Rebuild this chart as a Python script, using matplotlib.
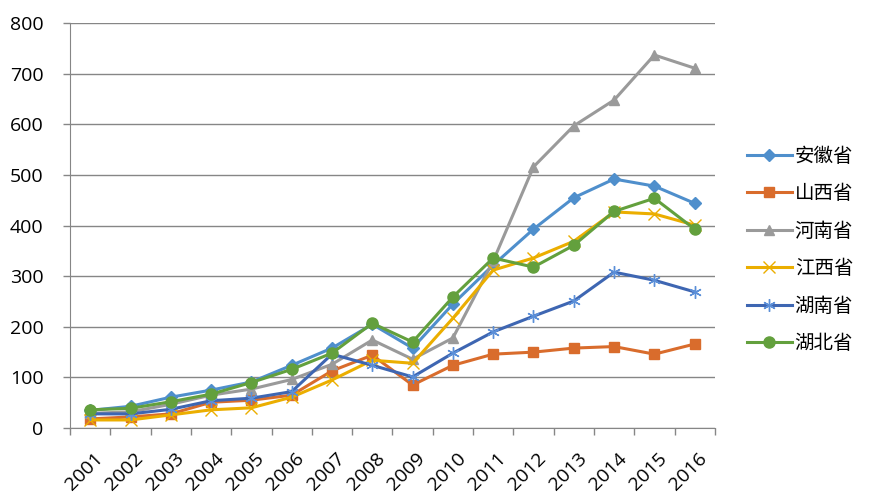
import matplotlib
matplotlib.use('Agg')
import matplotlib.pyplot as plt
import matplotlib.transforms as mtransforms
import numpy as np

plt.rcParams['font.family'] = ['Open Sans', 'Noto Sans CJK SC', 'DejaVu Sans']

# dados
anos = [str(a) for a in range(2001, 2017)]
anhui = [35, 43, 61, 75, 91, 124, 158, 205, 158, 245, 322, 393, 455, 492, 478, 444]
shanxi = [18, 22, 28, 51, 55, 65, 113, 144, 85, 124, 146, 150, 158, 161, 146, 166]
henan = [29, 32, 47, 65, 77, 96, 126, 174, 136, 178, 330, 516, 597, 648, 737, 711]
jiangxi = [16, 16, 26, 36, 40, 61, 95, 134, 128, 217, 312, 336, 369, 427, 423, 401]
hunan = [28, 28, 37, 54, 59, 72, 146, 124, 101, 148, 190, 221, 251, 308, 292, 269]
hubei = [36, 39, 52, 67, 90, 116, 148, 207, 170, 259, 336, 318, 361, 428, 454, 393]

nomes = ['安徽省', '山西省', '河南省', '江西省', '湖南省', '湖北省']
series = [anhui, shanxi, henan, jiangxi, hunan, hubei]
cores = ['#4F8FCC', '#D96C2C', '#9A9A9A', '#EBAE00', '#3E66B2', '#63A03D']
marcadores = ['D', 's', '^', 'x', (6, 2, 0), 'o']
tamanhos = [6, 7, 7.5, 8, 9, 8]
cor_borda = ['#4F8FCC', '#D96C2C', '#9A9A9A', '#EBAE00', '#5B8FD8', '#63A03D']

fig = plt.figure(figsize=(8.76, 5.03), dpi=100)
ax = fig.add_axes([0.080, 0.149, 0.736, 0.805])

x = np.arange(len(anos))
for nome, vals, c, m, s, ce in zip(nomes, series, cores, marcadores, tamanhos, cor_borda):
    ax.plot(x, vals, color=c, lw=2.2, marker=m, markersize=s,
            markerfacecolor=ce, markeredgecolor=ce, markeredgewidth=1.0, label=nome)

ax.set_xlim(-0.5, len(anos) - 0.5)
ax.set_ylim(0, 800)
ax.set_yticks(range(0, 801, 100))
ax.yaxis.grid(True, color='#868686', lw=1)
ax.set_axisbelow(True)

ax.set_xticks(x)
ax.set_xticks(np.arange(-0.5, len(anos), 1), minor=True)
ax.tick_params(axis='x', which='major', length=0, pad=15)
ax.tick_params(axis='x', which='minor', length=5, color='#868686', width=1)
ax.tick_params(axis='y', length=5, color='#868686', width=1, labelsize=14, pad=14)
ax.set_xticklabels(anos, rotation=45, ha='right', va='center',
                   rotation_mode='anchor', fontsize=14)
# deslocar rótulos do eixo x (depois do tick_params, que reseta o transform)
desloc = mtransforms.ScaledTranslation(0.10, -0.07, fig.dpi_scale_trans)
for lab in ax.get_xticklabels():
    lab.set_transform(lab.get_transform() + desloc)

for sp in ['top', 'right']:
    ax.spines[sp].set_visible(False)
for sp in ['left', 'bottom']:
    ax.spines[sp].set_color('#868686')

ax.legend(loc='center left', bbox_to_anchor=(1.05, 0.44), frameon=False,
          labelspacing=0.85, handlelength=2.3, handletextpad=0.15,
          borderaxespad=0, borderpad=0,
          prop={'family': ['Noto Sans CJK SC'], 'size': 14})

fig.savefig('out.png', dpi=100)
